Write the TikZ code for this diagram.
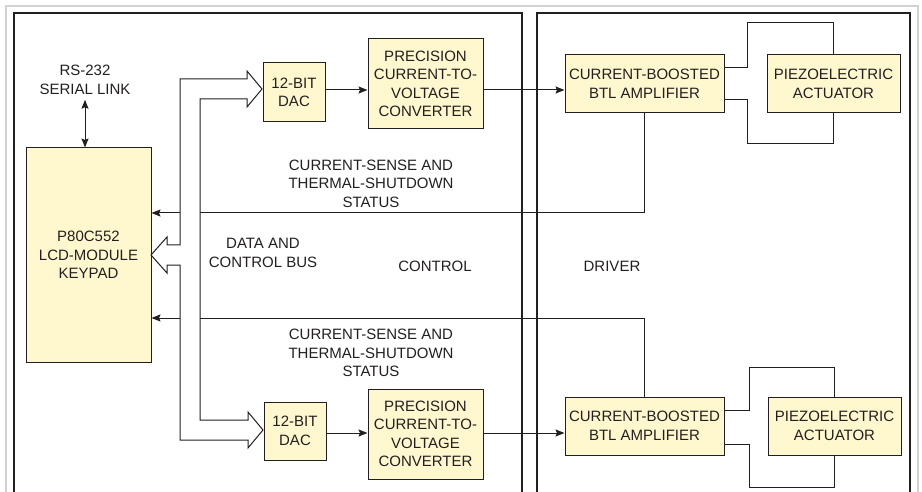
\documentclass[tikz,border=0pt]{standalone}
\usepackage{fontspec}
\setmainfont{Liberation Sans}
\usetikzlibrary{arrows.meta,calc}
\definecolor{ink}{HTML}{231F20}
\definecolor{boxfill}{HTML}{FFF8CF}
\definecolor{framegray}{HTML}{D2D2D2}
\begin{document}
\begin{tikzpicture}[x=1pt,y=-1pt,
  font=\fontsize{15}{18.5}\selectfont, text=ink,
  blk/.style={draw=ink, fill=boxfill, line width=1pt, inner sep=0pt, align=center},
  lbl/.style={align=center, inner sep=0pt},
  conn/.style={draw=ink, line width=1pt},
  tip/.style={-{Stealth[length=9pt,width=7pt,inset=1.5pt]}},
  arr/.style={conn, tip},
  panel/.style={draw=ink, line width=2.5pt},
]
\useasboundingbox (0,0) rectangle (922,492);
\clip (0,0) rectangle (922,492);
% frames
\draw[framegray, line width=2pt] (6,6) rectangle (918,520);
\draw[panel] (14,13) rectangle (522,520);
\draw[panel] (537,13) rectangle (910,520);

% blocks
\node[blk, minimum width=125pt, minimum height=214pt] (mcu) at (88.5,255) {P80C552\\LCD-MODULE\\KEYPAD};
\node[lbl] (rs) at (85,80) {RS-232\\SERIAL LINK};

\node[blk, minimum width=62pt, minimum height=59pt] (dac1) at (294,92.5) {12-BIT\\DAC};
\node[blk, minimum width=115pt, minimum height=90pt] (conv1) at (425.5,84) {PRECISION\\CURRENT-TO-\\VOLTAGE\\CONVERTER};
\node[blk, minimum width=159pt, minimum height=58pt] (amp1) at (644.5,84) {CURRENT-BOOSTED\\BTL AMPLIFIER};
\node[blk, minimum width=133pt, minimum height=58pt] (pz1) at (833.5,84) {PIEZOELECTRIC\\ACTUATOR};

\node[blk, minimum width=62pt, minimum height=58pt] (dac2) at (295,431) {12-BIT\\DAC};
\node[blk, minimum width=115pt, minimum height=90pt] (conv2) at (425.5,434) {PRECISION\\CURRENT-TO-\\VOLTAGE\\CONVERTER};
\node[blk, minimum width=159pt, minimum height=58pt] (amp2) at (644.5,426) {CURRENT-BOOSTED\\BTL AMPLIFIER};
\node[blk, minimum width=133pt, minimum height=58pt] (pz2) at (834.5,426) {PIEZOELECTRIC\\ACTUATOR};

% labels
\node[lbl] (st1) at (371,183.5) {CURRENT-SENSE AND\\THERMAL-SHUTDOWN\\STATUS};
\node[lbl] (st2) at (371,353) {CURRENT-SENSE AND\\THERMAL-SHUTDOWN\\STATUS};
\node[lbl] (bus) at (263,253) {DATA AND\\CONTROL BUS};
\node[lbl] (ctl) at (435,266) {CONTROL};
\node[lbl] (drv) at (612,266) {DRIVER};

% helper rows
\coordinate (r1) at (0,90);
\coordinate (r2) at (0,433);
\coordinate (s1) at (0,213);
\coordinate (s2) at (0,318);

% serial link
\draw[conn, {Stealth[length=9pt,width=7pt,inset=1.5pt]}-{Stealth[length=9pt,width=7pt,inset=1.5pt]}]
  ([yshift=-5pt]rs.south) -- (rs.south |- mcu.north);

% signal chain
\draw[arr] (dac1.east |- r1) -- (conv1.west |- r1);
\draw[arr] (conv1.east |- r1) -- (amp1.west |- r1);
\draw[arr] (dac2.east |- r2) -- (conv2.west |- r2);
\draw[arr] (conv2.east |- r2) -- (amp2.west |- r2);

% amplifier to actuator wiring
\draw[conn] ([yshift=16pt]amp1.east) -| (747,23) -| (pz1.north);
\draw[conn] ([yshift=-16pt]amp1.east) -| (747,144) -| (pz1.south);
\draw[conn] ([yshift=16pt]amp2.east) -| (749,367) -| (pz2.north);
\draw[conn] ([yshift=-18pt]amp2.east) -| (749,487) -| (pz2.south);

% status feedback
\draw[arr] (amp1.south) |- (mcu.east |- s1);
\draw[arr] (amp2.north) |- (mcu.east |- s2);

% data and control bus (hollow arrows)
\draw[conn, fill=white, line join=miter]
  (247,79) -- (247,71) -- (262,89) -- (247,107) -- (247,99) -- (200,99)
  -- (200,420) -- (248,420) -- (248,412) -- (263,430) -- (248,448) -- (248,440)
  -- (180,440) -- (180,265) -- (167,265) -- (167,273) -- (151,255) -- (167,237)
  -- (167,245) -- (180,245) -- (180,79) -- cycle;
\end{tikzpicture}
\end{document}
